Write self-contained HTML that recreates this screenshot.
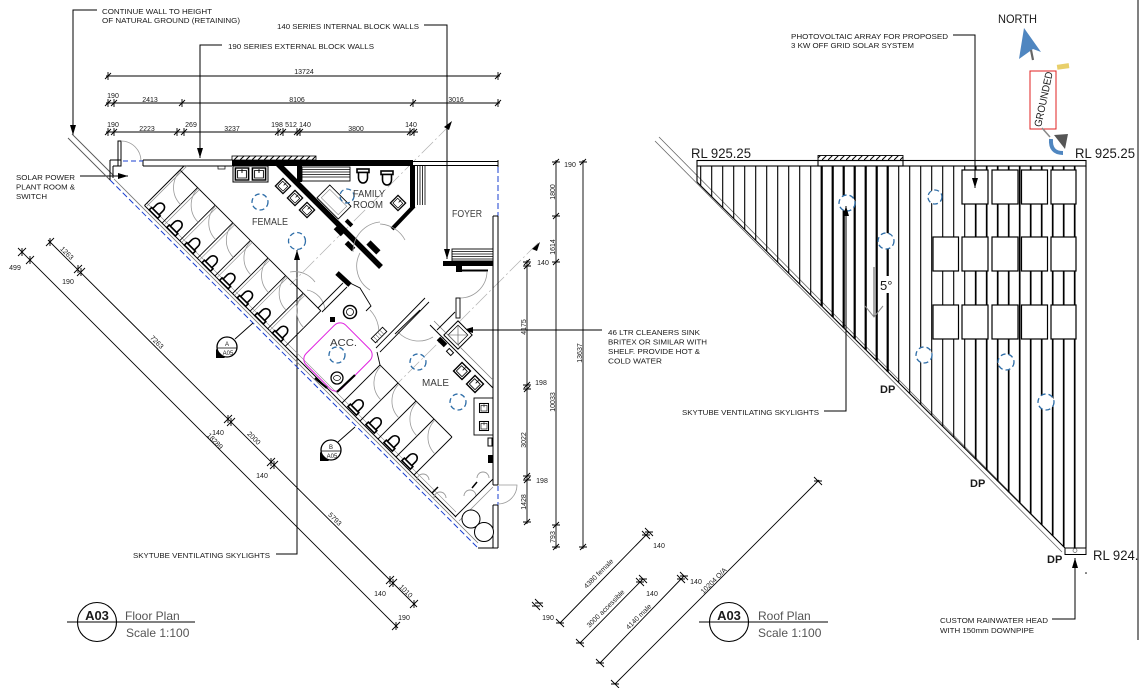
<!DOCTYPE html>
<html><head><meta charset="utf-8"><style>
html,body{margin:0;padding:0;background:#fff;width:1141px;height:688px;overflow:hidden}
svg{display:block}
text{font-family:"Liberation Sans",Arial,sans-serif;fill:#1a1a1a}
.n{font-size:7.4px}
.d{font-size:7px}
.r{font-size:10px;fill:#3b3b3b}
.t{font-size:12px;fill:#555}
</style></head><body>
<svg width="1141" height="688" viewBox="0 0 1141 688" xmlns="http://www.w3.org/2000/svg" xmlns:xlink="http://www.w3.org/1999/xlink">
<defs>
<marker id="a" viewBox="0 0 10 6" refX="10" refY="3" markerWidth="10" markerHeight="6" markerUnits="userSpaceOnUse" orient="auto"><path d="M0,0L10,3L0,6z" fill="#000"/></marker>
<marker id="v" viewBox="0 0 20 14" refX="10" refY="12" markerWidth="20" markerHeight="14" markerUnits="userSpaceOnUse" orient="0"><path d="M1,1L10,12L19,1" fill="none" stroke="#888" stroke-width="1"/></marker>
<path id="th" d="M-3,3L3,-3M0,-4V4" stroke="#000" stroke-width="0.9" fill="none"/>
<path id="tv" d="M-3,3L3,-3M-4,0H4" stroke="#000" stroke-width="0.9" fill="none"/>
<path id="td" d="M-4,4L4,-4M0,-4V4" stroke="#000" stroke-width="0.9" fill="none"/>
<path id="tu" d="M-4,-4L4,4M-4,0H4" stroke="#000" stroke-width="0.9" fill="none"/>
<g id="wc"><rect x="-9" y="-6" width="3.5" height="12" fill="#fff" stroke="#000" stroke-width="1.6"/><path d="M-5.5,-4.5H0A5,4.5 0 0 1 0,4.5H-5.5Z" fill="#fff" stroke="#000" stroke-width="1.6"/></g>
<g id="sk"><rect x="-6" y="-6" width="12" height="12" fill="#fff" stroke="#000" stroke-width="1.4"/><rect x="-4" y="-3.5" width="8" height="7.5" fill="none" stroke="#000" stroke-width="0.8"/><path d="M0,-5V-1" stroke="#000" stroke-width="0.8"/></g>
<pattern id="hp" width="6" height="5" patternUnits="userSpaceOnUse"><path d="M0,5L5,0" stroke="#000" stroke-width="1"/></pattern>
</defs>

<!-- ============ FLOOR PLAN NOTES ============ -->
<g fill="none" stroke="#000" stroke-width="1">
<polyline points="97,10 73,10 73,135" marker-end="url(#a)"/>
<polyline points="424,25 447,25 447,259" marker-end="url(#a)"/>
<polyline points="222,45 200,45 200,158" marker-end="url(#a)"/>
<polyline points="80,176 128,176" marker-end="url(#a)"/>
<polyline points="602,330 463,330" marker-end="url(#a)"/>
<polyline points="276,554 297,554 297,250" marker-end="url(#a)"/>
</g>
<text class="n" x="102" y="14" textLength="110" lengthAdjust="spacingAndGlyphs">CONTINUE WALL TO HEIGHT</text>
<text class="n" x="102" y="23" textLength="138" lengthAdjust="spacingAndGlyphs">OF NATURAL GROUND (RETAINING)</text>
<text class="n" x="277" y="29" textLength="142" lengthAdjust="spacingAndGlyphs">140 SERIES INTERNAL BLOCK WALLS</text>
<text class="n" x="228" y="49" textLength="146" lengthAdjust="spacingAndGlyphs">190 SERIES EXTERNAL BLOCK WALLS</text>
<text class="n" x="16" y="180" textLength="59" lengthAdjust="spacingAndGlyphs">SOLAR POWER</text>
<text class="n" x="16" y="189.5" textLength="59" lengthAdjust="spacingAndGlyphs">PLANT ROOM &amp;</text>
<text class="n" x="16" y="199" textLength="31" lengthAdjust="spacingAndGlyphs">SWITCH</text>
<text class="n" x="608" y="335" textLength="92" lengthAdjust="spacingAndGlyphs">46 LTR CLEANERS SINK</text>
<text class="n" x="608" y="344.5" textLength="99" lengthAdjust="spacingAndGlyphs">BRITEX OR SIMILAR WITH</text>
<text class="n" x="608" y="354" textLength="92" lengthAdjust="spacingAndGlyphs">SHELF. PROVIDE HOT &amp;</text>
<text class="n" x="608" y="363.5" textLength="54" lengthAdjust="spacingAndGlyphs">COLD WATER</text>
<text class="n" x="133" y="558" textLength="137" lengthAdjust="spacingAndGlyphs">SKYTUBE VENTILATING SKYLIGHTS</text>

<!-- ============ TOP DIMENSIONS ============ -->
<g stroke="#000" stroke-width="0.9">
<line x1="106" y1="76" x2="500" y2="76"/>
<line x1="106" y1="103" x2="500" y2="103"/>
<line x1="106" y1="132" x2="418" y2="132"/>
</g>
<use xlink:href="#th" x="108" y="76"/><use xlink:href="#th" x="498" y="76"/>
<use xlink:href="#th" x="108" y="103"/><use xlink:href="#th" x="114" y="103"/><use xlink:href="#th" x="182" y="103"/><use xlink:href="#th" x="413" y="103"/><use xlink:href="#th" x="498" y="103"/>
<use xlink:href="#th" x="108" y="132"/><use xlink:href="#th" x="114" y="132"/><use xlink:href="#th" x="177" y="132"/><use xlink:href="#th" x="184" y="132"/><use xlink:href="#th" x="278" y="132"/><use xlink:href="#th" x="283" y="132"/><use xlink:href="#th" x="297" y="132"/><use xlink:href="#th" x="300" y="132"/><use xlink:href="#th" x="410" y="132"/><use xlink:href="#th" x="414" y="132"/>
<g class="d" text-anchor="middle">
<text x="304" y="74">13724</text>
<text x="113" y="98">190</text><text x="150" y="102">2413</text><text x="297" y="102">8106</text><text x="456" y="102">3016</text>
<text x="113" y="127">190</text><text x="147" y="131">2223</text><text x="191" y="127">269</text><text x="232" y="131">3237</text><text x="277" y="127">198</text><text x="291" y="127">512</text><text x="305" y="127">140</text><text x="356" y="131">3800</text><text x="411" y="127">140</text>
</g>

<!-- ============ RIGHT DIMENSIONS ============ -->
<g stroke="#000" stroke-width="0.9">
<line x1="583" y1="160" x2="583" y2="549"/>
<line x1="556" y1="160" x2="556" y2="549"/>
<line x1="527" y1="260" x2="527" y2="524"/>
</g>
<use xlink:href="#tv" x="583" y="162"/><use xlink:href="#tv" x="583" y="547"/>
<use xlink:href="#tv" x="556" y="162"/><use xlink:href="#tv" x="556" y="216"/><use xlink:href="#tv" x="556" y="262"/><use xlink:href="#tv" x="556" y="525"/><use xlink:href="#tv" x="556" y="547"/>
<use xlink:href="#tv" x="527" y="262"/><use xlink:href="#tv" x="527" y="266"/><use xlink:href="#tv" x="527" y="385"/><use xlink:href="#tv" x="527" y="389"/><use xlink:href="#tv" x="527" y="476"/><use xlink:href="#tv" x="527" y="480"/><use xlink:href="#tv" x="527" y="522"/>
<g class="d" text-anchor="middle">
<text transform="translate(582,353) rotate(-90)">13637</text>
<text transform="translate(555,192) rotate(-90)">1800</text>
<text transform="translate(555,247) rotate(-90)">1614</text>
<text transform="translate(555,402) rotate(-90)">10033</text>
<text transform="translate(555,537) rotate(-90)">793</text>
<text transform="translate(526,327) rotate(-90)">4175</text>
<text transform="translate(526,440) rotate(-90)">3022</text>
<text transform="translate(526,502) rotate(-90)">1428</text>
<text x="570" y="167">190</text>
<text x="543" y="265">140</text>
<text x="541" y="385">198</text>
<text x="542" y="483">198</text>
</g>

<!-- ============ DIAGONAL DIMENSIONS (floor) ============ -->
<g stroke="#000" stroke-width="0.9">
<line x1="18" y1="248" x2="398" y2="628"/>
<line x1="48" y1="240" x2="417" y2="607"/>
</g>
<use xlink:href="#td" x="22" y="252"/><use xlink:href="#td" x="30" y="260"/><use xlink:href="#td" x="396" y="626"/>
<use xlink:href="#td" x="50" y="242"/><use xlink:href="#td" x="78" y="269"/><use xlink:href="#td" x="81" y="272"/><use xlink:href="#td" x="228" y="419"/><use xlink:href="#td" x="231" y="422"/><use xlink:href="#td" x="271" y="462"/><use xlink:href="#td" x="274" y="465"/><use xlink:href="#td" x="390" y="580"/><use xlink:href="#td" x="393" y="583"/><use xlink:href="#td" x="414" y="604"/>
<g class="d" text-anchor="middle">
<text x="15" y="270">499</text>
<text x="68" y="284">190</text>
<text x="218" y="435">140</text>
<text x="262" y="478">140</text>
<text x="380" y="596">140</text>
<text x="404" y="620">190</text>
<text transform="translate(67,253) rotate(45)" dy="2.5">1263</text>
<text transform="translate(157,342) rotate(45)" dy="2.5">7263</text>
<text transform="translate(215,441) rotate(45)" dy="2.5">18289</text>
<text transform="translate(254,438) rotate(45)" dy="2.5">2000</text>
<text transform="translate(335,519) rotate(45)" dy="2.5">5793</text>
<text transform="translate(406,591) rotate(45)" dy="2.5">1010</text>
</g>

<!-- ============ DIAGONAL DIMENSIONS (bottom middle) ============ -->
<g stroke="#000" stroke-width="0.9">
<line x1="560" y1="623" x2="649" y2="532"/>
<line x1="580" y1="643" x2="643" y2="579"/>
<line x1="600" y1="663" x2="684" y2="576"/>
<line x1="615" y1="684" x2="819" y2="480"/>
</g>
<use xlink:href="#tu" x="560" y="623"/><use xlink:href="#tu" x="646" y="535"/><use xlink:href="#tu" x="649" y="532"/><use xlink:href="#tu" x="536" y="606"/><use xlink:href="#tu" x="539" y="603"/>
<use xlink:href="#tu" x="580" y="643"/><use xlink:href="#tu" x="640" y="582"/><use xlink:href="#tu" x="643" y="579"/>
<use xlink:href="#tu" x="600" y="663"/><use xlink:href="#tu" x="681" y="579"/><use xlink:href="#tu" x="684" y="576"/>
<use xlink:href="#tu" x="615" y="684"/><use xlink:href="#tu" x="818" y="481"/>
<g class="d" text-anchor="middle">
<text x="659" y="548">140</text>
<text x="548" y="620">190</text>
<text x="652" y="596">140</text>
<text x="696" y="584">140</text>
<text transform="translate(601,576) rotate(-45)" dy="-1">4380 female</text>
<text transform="translate(608,611) rotate(-45)" dy="-1">3000 accessible</text>
<text transform="translate(641,619) rotate(-45)" dy="-1">4140 male</text>
<text transform="translate(716,583) rotate(-45)" dy="-1">10204 O/A</text>
</g>

<!-- ============ FLOOR PLAN BUILDING ============ -->
<g stroke="#b0b0b0" stroke-width="0.7" fill="none" stroke-dasharray="16,3,2,3">
<line x1="450" y1="125" x2="290" y2="285"/>
<line x1="538" y1="243" x2="385" y2="396"/>
</g>
<polygon points="444,127 452,121 449,130" fill="#000"/>
<polygon points="532,249 540,242 537,251" fill="#000"/>
<g stroke="#555" stroke-width="0.9" fill="none">
<line x1="68" y1="138" x2="110" y2="180"/>
<line x1="72" y1="134" x2="114" y2="176"/>
</g>
<line x1="110" y1="180" x2="478" y2="548" stroke="#1a3fd0" stroke-width="1" stroke-dasharray="6,3"/>
<line x1="114" y1="179" x2="478" y2="543" stroke="#777" stroke-width="0.8"/>
<line x1="144.5" y1="205.5" x2="456" y2="517" stroke="#000" stroke-width="1"/>
<line x1="147" y1="203" x2="456" y2="512" stroke="#888" stroke-width="0.6"/>
<g stroke="#000" stroke-width="1" fill="none">
<line x1="110" y1="160" x2="110" y2="180"/>
<line x1="110" y1="160" x2="121" y2="160"/>
<line x1="113" y1="166" x2="113" y2="178"/>
<line x1="113" y1="166" x2="118" y2="166"/>
<rect x="118" y="141" width="3" height="25"/>
<line x1="143" y1="160" x2="232" y2="160"/>
<line x1="143" y1="166" x2="232" y2="166"/>
<line x1="143" y1="160" x2="143" y2="166"/>
<rect x="218" y="166" width="7" height="3" stroke-width="0.7"/>
<line x1="413" y1="161.5" x2="498" y2="161.5"/>
<line x1="413" y1="165.5" x2="498" y2="165.5"/>
<line x1="498" y1="160" x2="498" y2="167"/>
</g>
<path d="M121,141A20,20 0 0 1 141,161" fill="none" stroke="#999" stroke-width="0.8"/>
<line x1="123" y1="161" x2="143" y2="161" stroke="#1a3fd0" stroke-width="1" stroke-dasharray="5,3"/>
<rect x="232" y="160" width="181" height="6" fill="#000"/>
<rect x="232" y="156" width="84" height="4" fill="url(#hp)" stroke="#000" stroke-width="0.8"/>
<line x1="184" y1="166" x2="144.5" y2="205.5" stroke="#000" stroke-width="1"/>
<line x1="187" y1="166" x2="147" y2="206" stroke="#888" stroke-width="0.7"/>
<line x1="498" y1="167" x2="498" y2="216" stroke="#1a3fd0" stroke-width="1" stroke-dasharray="6,3"/>
<g stroke="#000" stroke-width="1" fill="none">
<line x1="493" y1="216" x2="498" y2="216"/>
<line x1="493" y1="216" x2="493" y2="485"/>
<line x1="498" y1="216" x2="498" y2="485"/>
<line x1="493" y1="505" x2="493" y2="548"/>
<line x1="498" y1="505" x2="498" y2="548"/>
<line x1="478" y1="548" x2="498" y2="548"/>
<line x1="493" y1="485" x2="498" y2="485"/>
<line x1="493" y1="505" x2="498" y2="505"/>
</g>
<line x1="498" y1="486" x2="498" y2="505" stroke="#1a3fd0" stroke-width="1" stroke-dasharray="5,3"/>
<path d="M498,485H517A19,19 0 0 1 498,504" fill="none" stroke="#999" stroke-width="0.8"/>
<rect x="452" y="249" width="41" height="12" fill="#fff" stroke="#000" stroke-width="0.9"/>
<g stroke="#000" stroke-width="0.8"><line x1="452" y1="251.5" x2="493" y2="251.5"/><line x1="452" y1="254" x2="493" y2="254"/><line x1="452" y1="256.5" x2="493" y2="256.5"/><line x1="452" y1="259" x2="493" y2="259"/></g>
<rect x="443" y="261" width="50" height="5" fill="#000"/>
<rect x="456" y="266" width="6" height="6" fill="#000"/>
<line x1="462" y1="270.5" x2="488" y2="270.5" stroke="#000" stroke-width="2"/>
<path d="M487,272A27,27 0 0 1 460,298" fill="none" stroke="#999" stroke-width="0.8"/>
<rect x="456" y="298" width="4" height="20" fill="#fff" stroke="#000" stroke-width="0.9"/>
<g transform="translate(458,335) rotate(45)"><rect x="-10" y="-10" width="20" height="20" fill="#fff" stroke="#000" stroke-width="1"/><rect x="-7" y="-7" width="14" height="14" fill="none" stroke="#000" stroke-width="0.7"/><path d="M-7,-7L7,7M7,-7L-7,7" stroke="#555" stroke-width="0.6"/></g>
<line x1="430" y1="325" x2="493" y2="388" stroke="#000" stroke-width="1"/>
<line x1="434" y1="321" x2="493" y2="380" stroke="#777" stroke-width="0.7"/>
<g transform="translate(442,342) rotate(45)"><rect x="-5" y="-2.5" width="10" height="5" fill="#000"/></g>
<g transform="translate(450,352) rotate(45)"><rect x="-3" y="-2" width="6" height="4" fill="#fff" stroke="#000"/></g>
<use xlink:href="#sk" transform="translate(462,371) rotate(45)"/>
<use xlink:href="#sk" transform="translate(475,384) rotate(45)"/>
<rect x="474" y="398" width="19" height="37" fill="none" stroke="#000" stroke-width="0.9"/>
<use xlink:href="#sk" transform="translate(484,408) scale(0.75)"/>
<use xlink:href="#sk" transform="translate(484,426) scale(0.75)"/>
<rect x="488" y="438" width="4" height="8" fill="#fff" stroke="#000"/>
<rect x="488" y="455" width="5" height="8" fill="#000"/>
<g fill="none" stroke="#999" stroke-width="0.9">
<path d="M417,480A6,6 0 0 1 429,480"/><path d="M434,498A6,6 0 0 1 446,498"/>
<path d="M464,496A6,6 0 0 1 476,496"/><path d="M477,478A6,6 0 0 1 489,478"/>
</g>
<line x1="432" y1="493" x2="438" y2="487" stroke="#000" stroke-width="1.5"/>
<line x1="472" y1="488" x2="477" y2="482" stroke="#000" stroke-width="1.5"/>
<line x1="455" y1="517" x2="493" y2="479" stroke="#000" stroke-width="0.9"/>
<line x1="459" y1="521" x2="493" y2="487" stroke="#888" stroke-width="0.7"/>
<circle cx="471" cy="519" r="9" fill="#fff" stroke="#000" stroke-width="1"/>
<circle cx="484" cy="532" r="9.5" fill="#fff" stroke="#000" stroke-width="1"/>

<!-- female stalls -->
<g stroke="#000" stroke-width="0.9">
<line x1="180" y1="170" x2="321" y2="311"/>
<line x1="162.1" y1="223.1" x2="197.6" y2="187.6"/>
<line x1="179.7" y1="240.7" x2="215.2" y2="205.2"/>
<line x1="197.3" y1="258.3" x2="232.8" y2="222.8"/>
<line x1="214.9" y1="275.9" x2="250.4" y2="240.4"/>
<line x1="232.5" y1="293.5" x2="268" y2="258"/>
<line x1="250.1" y1="311.1" x2="285.6" y2="275.6"/>
<line x1="267.7" y1="328.7" x2="303.2" y2="293.2"/>
<line x1="285.3" y1="346.3" x2="320.8" y2="310.8"/>
</g>
<g stroke="#888" stroke-width="0.6">
<line x1="164" y1="225" x2="199.5" y2="189.5"/><line x1="181.6" y1="242.6" x2="217.1" y2="207.1"/><line x1="199.2" y1="260.2" x2="234.7" y2="224.7"/><line x1="216.8" y1="277.8" x2="252.3" y2="242.3"/><line x1="234.4" y1="295.4" x2="269.9" y2="259.9"/><line x1="252" y1="313" x2="287.5" y2="277.5"/><line x1="269.6" y1="330.6" x2="305.1" y2="295.1"/>
</g>
<g fill="none" stroke="#999" stroke-width="0.8">
<path d="M180.6,170.6A24,24 0 0 0 180.6,204.6"/>
<path d="M198.2,188.2A24,24 0 0 0 198.2,222.2"/>
<path d="M215.8,205.8A24,24 0 0 0 215.8,239.8"/>
<path d="M233.4,223.4A24,24 0 0 0 233.4,257.4"/>
<path d="M251,241A24,24 0 0 0 251,275"/>
<path d="M268.6,258.6A24,24 0 0 0 268.6,292.6"/>
<path d="M286.2,276.2A24,24 0 0 0 286.2,310.2"/>
<path d="M303.8,293.8A24,24 0 0 0 303.8,327.8"/>
</g>
<use xlink:href="#wc" transform="translate(159.8,207.8) rotate(-45)"/>
<use xlink:href="#wc" transform="translate(177.4,225.4) rotate(-45)"/>
<use xlink:href="#wc" transform="translate(195,243) rotate(-45)"/>
<use xlink:href="#wc" transform="translate(212.6,260.6) rotate(-45)"/>
<use xlink:href="#wc" transform="translate(230.2,278.2) rotate(-45)"/>
<use xlink:href="#wc" transform="translate(247.8,295.8) rotate(-45)"/>
<use xlink:href="#wc" transform="translate(265.4,313.4) rotate(-45)"/>
<use xlink:href="#wc" transform="translate(283,331) rotate(-45)"/>

<!-- male stalls -->
<g stroke="#000" stroke-width="0.9">
<line x1="380" y1="365" x2="452" y2="437"/>
<line x1="380" y1="365" x2="342" y2="403"/>
<line x1="398" y1="383" x2="360" y2="421"/>
<line x1="416" y1="401" x2="378" y2="439"/>
<line x1="434" y1="419" x2="396" y2="457"/>
<line x1="452" y1="437" x2="414" y2="475"/>
</g>
<g fill="none" stroke="#999" stroke-width="0.8">
<path d="M381,366A24,24 0 0 0 381,400"/>
<path d="M399,384A24,24 0 0 0 399,418"/>
<path d="M417,402A24,24 0 0 0 417,436"/>
<path d="M435,420A24,24 0 0 0 435,454"/>
</g>
<use xlink:href="#wc" transform="translate(358.5,404.5) rotate(-45)"/>
<use xlink:href="#wc" transform="translate(376.5,422.5) rotate(-45)"/>
<use xlink:href="#wc" transform="translate(394.5,440.5) rotate(-45)"/>
<use xlink:href="#wc" transform="translate(412.5,458.5) rotate(-45)"/>

<!-- female top fixtures -->
<rect x="233" y="166" width="35" height="16" fill="none" stroke="#000" stroke-width="1"/>
<use xlink:href="#sk" transform="translate(242,174) scale(1.1,1)"/>
<use xlink:href="#sk" transform="translate(259,174) scale(1.1,1)"/>
<line x1="277" y1="163" x2="381" y2="267" stroke="#000" stroke-width="5.5"/>
<use xlink:href="#sk" transform="translate(283,186) rotate(45) scale(0.9)"/>
<use xlink:href="#sk" transform="translate(295,198) rotate(45) scale(0.9)"/>
<use xlink:href="#sk" transform="translate(307,210) rotate(45) scale(0.9)"/>
<g transform="translate(339,231) rotate(45)"><rect x="-5" y="-2.5" width="10" height="5" fill="#000"/></g>
<g transform="translate(349,223) rotate(45)"><rect x="-4" y="-2" width="8" height="4" fill="#000"/></g>
<g transform="translate(350,246) rotate(45)"><rect x="-5" y="-2.5" width="10" height="5" fill="#000"/></g>
<g transform="translate(372,246) rotate(45)"><rect x="-5" y="-3" width="14" height="6" fill="#000"/></g>
<!-- family room -->
<rect x="297" y="165" width="5" height="17" fill="#000"/>
<rect x="302" y="167" width="48" height="14" fill="#fff" stroke="#000" stroke-width="0.9"/>
<g stroke="#000" stroke-width="0.8"><line x1="302" y1="169.5" x2="350" y2="169.5"/><line x1="302" y1="172" x2="350" y2="172"/><line x1="302" y1="174.5" x2="350" y2="174.5"/><line x1="302" y1="177" x2="350" y2="177"/></g>
<rect x="410" y="165" width="5" height="42" fill="#000"/>
<line x1="414" y1="206" x2="392" y2="229" stroke="#000" stroke-width="4"/>
<g stroke="#000" stroke-width="0.8"><line x1="417.5" y1="166" x2="417.5" y2="205"/><line x1="420" y1="166" x2="420" y2="205"/><line x1="422.5" y1="166" x2="422.5" y2="205"/><line x1="425" y1="166" x2="425" y2="205"/></g>
<use xlink:href="#wc" transform="translate(363,178) rotate(90)"/>
<use xlink:href="#wc" transform="translate(387,180) rotate(90)"/>
<use xlink:href="#sk" transform="translate(398,203) rotate(45) scale(0.9)"/>
<g transform="translate(334,202) rotate(45)"><rect x="-15" y="-9" width="30" height="18" fill="#fff" stroke="#000" stroke-width="0.9"/><rect x="-12" y="-6" width="24" height="12" fill="none" stroke="#888" stroke-width="0.6"/></g>
<g fill="none" stroke="#999" stroke-width="0.8">
<path d="M380,222A30,30 0 0 0 353,252"/>
<path d="M360,253A28,28 0 0 0 370,290"/>
<path d="M290,272A25,25 0 0 1 315,282"/>
<path d="M307,290A22,22 0 0 1 325,310"/>
<path d="M370,310A32,32 0 0 1 377,343"/>
<path d="M398,332A28,28 0 0 0 433,337"/>
<path d="M380,224A30,30 0 0 1 405,240"/>
</g>
<line x1="337" y1="273" x2="350" y2="285" stroke="#000" stroke-width="5"/>
<g stroke="#000" stroke-width="0.9" fill="none">
<line x1="318" y1="308" x2="343" y2="283"/>
<line x1="322" y1="312" x2="347" y2="287"/>
<polyline points="350,283 360,288 371,306 366,311"/>
<line x1="376" y1="348" x2="425" y2="298"/>
<line x1="380" y1="352" x2="429" y2="302"/>
<line x1="395" y1="334" x2="420" y2="310"/>
<line x1="437" y1="330" x2="455" y2="312"/>
<line x1="377" y1="352" x2="380" y2="365"/>
</g>
<g transform="translate(379,335) rotate(-45)"><rect x="-8" y="-3" width="16" height="6" fill="#fff" stroke="#000" stroke-width="0.9"/><path d="M-5,-3V3M-2,-3V3M1,-3V3M4,-3V3" stroke="#555" stroke-width="0.5"/></g>
<rect x="-25" y="-28" width="50" height="56" rx="8" transform="translate(338,357) rotate(45)" fill="none" stroke="#e020e0" stroke-width="1"/>
<circle cx="350" cy="312" r="6.5" fill="#fff" stroke="#000" stroke-width="1.5"/>
<circle cx="350" cy="312" r="3.5" fill="none" stroke="#000" stroke-width="0.8"/>
<rect x="330" y="317" width="5" height="5" fill="#000"/>
<circle cx="337" cy="378" r="6" fill="#fff" stroke="#000" stroke-width="1.3"/>
<ellipse cx="337" cy="378" rx="3.5" ry="2.5" fill="none" stroke="#000" stroke-width="0.7"/>
<line x1="337" y1="392" x2="355" y2="375" stroke="#000" stroke-width="2.2"/>
<line x1="315" y1="378" x2="327" y2="388" stroke="#000" stroke-width="2.2"/>

<g fill="none" stroke="#2f6ea8" stroke-width="1.3" stroke-dasharray="5,3">
<circle cx="260" cy="202" r="8"/>
<circle cx="297" cy="241" r="8.5"/>
<circle cx="347" cy="196" r="7"/>
<circle cx="337" cy="355" r="8"/>
<circle cx="418" cy="362" r="8"/>
<circle cx="458" cy="402" r="8"/>
</g>

<text class="r" x="252" y="225" textLength="36" lengthAdjust="spacingAndGlyphs">FEMALE</text>
<text class="r" x="353" y="197" textLength="32" lengthAdjust="spacingAndGlyphs">FAMILY</text>
<text class="r" x="353" y="208" textLength="30" lengthAdjust="spacingAndGlyphs">ROOM</text>
<text class="r" x="452" y="217" textLength="30" lengthAdjust="spacingAndGlyphs">FOYER</text>
<text class="r" x="330" y="346" textLength="27" lengthAdjust="spacingAndGlyphs">ACC.</text>
<text class="r" x="422" y="386" textLength="27" lengthAdjust="spacingAndGlyphs">MALE</text>

<line x1="235" y1="339" x2="253" y2="323" stroke="#000" stroke-width="0.9"/>
<circle cx="227" cy="347" r="10" fill="#fff" stroke="#000" stroke-width="1.3"/>
<line x1="217" y1="348" x2="237" y2="348" stroke="#000" stroke-width="0.8"/>
<polygon points="216,349 216,358 225,358" fill="#000"/>
<text x="227" y="346" font-size="6" text-anchor="middle">A</text>
<text x="228" y="355" font-size="6" text-anchor="middle">A05</text>
<line x1="338" y1="442" x2="355" y2="427" stroke="#000" stroke-width="0.9"/>
<circle cx="331" cy="450" r="10" fill="#fff" stroke="#000" stroke-width="1.3"/>
<line x1="321" y1="451" x2="341" y2="451" stroke="#000" stroke-width="0.8"/>
<polygon points="320,452 320,461 329,461" fill="#000"/>
<text x="331" y="449" font-size="6" text-anchor="middle">B</text>
<text x="332" y="458" font-size="6" text-anchor="middle">A05</text>

<line x1="67" y1="622" x2="195" y2="622" stroke="#000" stroke-width="1"/>
<circle cx="97" cy="622" r="19.5" fill="none" stroke="#000" stroke-width="1.1"/>
<text x="97" y="620" font-size="13" font-weight="bold" text-anchor="middle" fill="#111">A03</text>
<text class="t" x="125" y="620">Floor Plan</text>
<text class="t" x="126" y="637">Scale 1:100</text>

<!-- ============ ROOF PLAN ============ -->
<g stroke="#666" stroke-width="0.8">
<line x1="655" y1="141" x2="1062" y2="552"/>
<line x1="659" y1="137" x2="1066" y2="549"/>
</g>
<g stroke="#000" stroke-width="1.1">
<line x1="700.7" y1="166" x2="700.7" y2="185.7"/>
<line x1="711.7" y1="166" x2="711.7" y2="196.6"/>
<line x1="722.7" y1="166" x2="722.7" y2="207.6"/>
<line x1="733.7" y1="166" x2="733.7" y2="218.5"/>
<line x1="744.7" y1="166" x2="744.7" y2="229.5"/>
<line x1="755.7" y1="166" x2="755.7" y2="240.4"/>
<line x1="766.7" y1="166" x2="766.7" y2="251.4"/>
<line x1="777.7" y1="166" x2="777.7" y2="262.3"/>
<line x1="788.7" y1="166" x2="788.7" y2="273.3"/>
<line x1="799.7" y1="166" x2="799.7" y2="284.2"/>
<line x1="810.7" y1="166" x2="810.7" y2="295.2"/>
<line x1="898.7" y1="166" x2="898.7" y2="382.7"/>
<line x1="909.7" y1="166" x2="909.7" y2="393.7"/>
<line x1="920.7" y1="166" x2="920.7" y2="404.6"/>
<line x1="931.7" y1="166" x2="931.7" y2="415.5"/>
<line x1="942.7" y1="166" x2="942.7" y2="426.5"/>
<line x1="953.7" y1="166" x2="953.7" y2="437.4"/>
<line x1="964.7" y1="166" x2="964.7" y2="448.4"/>
</g>
<g stroke="#000" stroke-width="2.2">
<line x1="821.7" y1="166" x2="821.7" y2="306.1"/>
<line x1="832.7" y1="166" x2="832.7" y2="317"/>
<line x1="843.7" y1="166" x2="843.7" y2="328"/>
<line x1="854.7" y1="166" x2="854.7" y2="338.9"/>
<line x1="865.7" y1="166" x2="865.7" y2="349.9"/>
<line x1="876.7" y1="166" x2="876.7" y2="360.8"/>
<line x1="887.7" y1="166" x2="887.7" y2="371.8"/>
</g>
<g stroke="#000" stroke-width="1.7">
<line x1="975.7" y1="166" x2="975.7" y2="459.3"/>
<line x1="986.7" y1="166" x2="986.7" y2="470.3"/>
<line x1="997.7" y1="166" x2="997.7" y2="481.2"/>
<line x1="1008.7" y1="166" x2="1008.7" y2="492.2"/>
<line x1="1019.7" y1="166" x2="1019.7" y2="503.1"/>
<line x1="1030.7" y1="166" x2="1030.7" y2="514.1"/>
<line x1="1041.7" y1="166" x2="1041.7" y2="525"/>
<line x1="1052.7" y1="166" x2="1052.7" y2="535.9"/>
<line x1="1063.7" y1="166" x2="1063.7" y2="546.9"/>
<line x1="1074.7" y1="166" x2="1074.7" y2="548"/>
</g>
<g stroke="#000" stroke-width="1.1" fill="none">
<line x1="697" y1="166" x2="697" y2="182"/>
<line x1="697" y1="182" x2="1065" y2="548"/>
<line x1="1086" y1="166" x2="1086" y2="548"/>
</g>
<rect x="697" y="160.5" width="389" height="5.5" fill="#fff" stroke="#000" stroke-width="1.1"/>
<rect x="818" y="155.5" width="85" height="5" fill="url(#hp)" stroke="#000" stroke-width="0.9"/>
<rect x="818" y="160.5" width="85" height="5.5" fill="none" stroke="#000" stroke-width="1.1"/>
<rect x="1065" y="548" width="21" height="6.5" fill="#fff" stroke="#000" stroke-width="1"/>
<circle cx="1075" cy="550.5" r="2" fill="none" stroke="#666" stroke-width="0.7"/>
<circle cx="1086" cy="573" r="0.8" fill="#000"/>
<g fill="#fff" stroke="#000" stroke-width="1.2">
<rect x="962" y="170" width="26" height="34"/><rect x="992" y="170" width="26" height="34"/><rect x="1021.5" y="170" width="26" height="34"/><rect x="1051" y="170" width="25" height="34"/>
<rect x="933" y="237" width="25.5" height="34"/><rect x="962" y="237" width="26" height="34"/><rect x="992" y="237" width="26" height="34"/><rect x="1021.5" y="237" width="26" height="34"/><rect x="1051" y="237" width="25" height="34"/>
<rect x="933" y="305" width="25.5" height="34"/><rect x="962" y="305" width="26" height="34"/><rect x="992" y="305" width="26" height="34"/><rect x="1021.5" y="305" width="26" height="34"/><rect x="1051" y="305" width="25" height="34"/>
</g>
<g fill="#fff" stroke="#2f6ea8" stroke-width="1.3" stroke-dasharray="5,3">
<circle cx="847" cy="203" r="8"/>
<circle cx="886" cy="241" r="8"/>
<circle cx="935" cy="197" r="7"/>
<circle cx="924" cy="355" r="8"/>
<circle cx="1006" cy="362" r="8"/>
<circle cx="1046" cy="402" r="8"/>
</g>
<rect x="878" y="276" width="17" height="17" fill="#fff"/>
<line x1="874" y1="267" x2="874" y2="317" stroke="#444" stroke-width="0.9" marker-end="url(#v)"/>
<text x="880" y="290" font-size="13" fill="#333">5°</text>
<g font-size="11" font-weight="bold" fill="#111">
<text x="880" y="393">DP</text>
<text x="970" y="487">DP</text>
<text x="1047" y="563">DP</text>
</g>
<text x="691" y="158" font-size="13.5" fill="#333" textLength="60" lengthAdjust="spacingAndGlyphs">RL 925.25</text>
<text x="1075" y="158" font-size="13.5" fill="#333" textLength="60" lengthAdjust="spacingAndGlyphs">RL 925.25</text>
<text x="1093" y="560" font-size="13.5" fill="#333" textLength="60" lengthAdjust="spacingAndGlyphs">RL 924.25</text>
<rect x="1139" y="0" width="2" height="688" fill="#fff"/>
<line x1="1138" y1="0" x2="1138" y2="640" stroke="#000" stroke-width="1"/>
<g fill="none" stroke="#000" stroke-width="1">
<polyline points="953,35 975,35 975,188" marker-end="url(#a)"/>
<polyline points="824,411 846,411 846,206" marker-end="url(#a)"/>
<polyline points="1052,619 1075,619 1075,558" marker-end="url(#a)"/>
</g>
<text class="n" x="791" y="39" textLength="157" lengthAdjust="spacingAndGlyphs">PHOTOVOLTAIC ARRAY FOR PROPOSED</text>
<text class="n" x="791" y="48" textLength="123" lengthAdjust="spacingAndGlyphs">3 KW OFF GRID SOLAR SYSTEM</text>
<text class="n" x="682" y="415" textLength="137" lengthAdjust="spacingAndGlyphs">SKYTUBE VENTILATING SKYLIGHTS</text>
<text class="n" x="940" y="623" textLength="108" lengthAdjust="spacingAndGlyphs">CUSTOM RAINWATER HEAD</text>
<text class="n" x="940" y="633" textLength="94" lengthAdjust="spacingAndGlyphs">WITH 150mm DOWNPIPE</text>
<text x="998" y="23" font-size="12" fill="#6a7f95" textLength="39" lengthAdjust="spacingAndGlyphs">NORTH</text>
<polygon points="1024,28 1041,52 1033,49 1019,59" fill="#4f86c0"/>
<line x1="1031" y1="50" x2="1033" y2="60" stroke="#666" stroke-width="2.2"/>
<rect x="1057" y="64" width="12" height="5" fill="#e8cf6a" transform="rotate(-8 1063 66)"/>
<rect x="1030" y="71" width="26" height="58" fill="none" stroke="#e02020" stroke-width="1"/>
<text transform="translate(1047,100) rotate(-78)" font-size="10.5" fill="#9a9a9a" text-anchor="middle" textLength="56" lengthAdjust="spacingAndGlyphs">GROUNDED</text>
<line x1="1042" y1="128" x2="1050" y2="137" stroke="#888" stroke-width="1.5"/>
<path d="M1051,139Q1050,153 1063,153" fill="none" stroke="#4f86c0" stroke-width="4"/>
<polygon points="1054,135 1068,134 1065,149" fill="#555"/>
<line x1="699" y1="622" x2="828" y2="622" stroke="#000" stroke-width="1"/>
<circle cx="729" cy="622" r="19.5" fill="none" stroke="#000" stroke-width="1.1"/>
<text x="729" y="620" font-size="13" font-weight="bold" text-anchor="middle" fill="#111">A03</text>
<text class="t" x="758" y="620">Roof Plan</text>
<text class="t" x="758" y="637">Scale 1:100</text>
</svg>
</body></html>
